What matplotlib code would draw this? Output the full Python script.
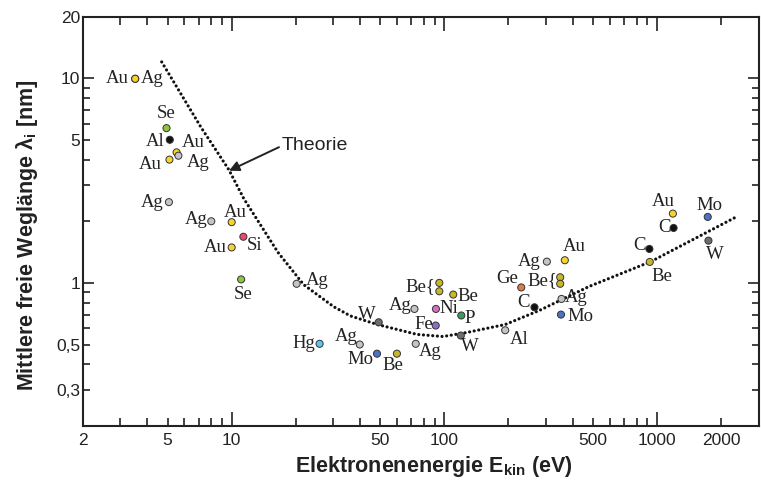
import matplotlib
matplotlib.use('Agg')
import matplotlib.pyplot as plt
from matplotlib import font_manager
from matplotlib.ticker import FixedLocator, FuncFormatter

# 1. Daten
theory_E = [4.69, 7.2, 9.7, 11.4, 16.5, 21.8, 30.1, 36.1, 48.4, 74.4, 98.5, 127, 193, 279, 478, 933, 2352]
theory_lam = [12.0, 5.72, 3.57, 2.58, 1.41, 0.98, 0.766, 0.69, 0.626, 0.56, 0.547, 0.572, 0.626, 0.733, 0.96, 1.27, 2.1]

energy = [3.52, 3.52, 4.94, 5.12, 5.51, 5.1, 5.62, 5.07, 8.02, 10.0, 11.35, 10.0, 11.08, 20.2,
          25.9, 40, 48.2, 59.8, 49.1, 72.3, 73.3, 94.6, 94.6, 110, 91.2, 120, 91, 119.4, 193,
          229.6, 303, 368, 350, 350, 265, 355, 353, 1185, 1194, 919, 923, 1728, 1741]
lam = [9.93, 9.93, 5.70, 5.0, 4.34, 4.0, 4.18, 2.48, 2.0, 1.98, 1.68, 1.49, 1.04, 0.99,
       0.504, 0.50, 0.451, 0.451, 0.642, 0.746, 0.504, 1.0, 0.91, 0.877, 0.746, 0.693, 0.619, 0.553, 0.587,
       0.95, 1.27, 1.29, 1.065, 0.99, 0.76, 0.835, 0.70, 2.18, 1.855, 1.465, 1.266, 2.10, 1.608]
element = ['Au', 'Ag', 'Se', 'Al', 'Au', 'Au', 'Ag', 'Ag', 'Ag', 'Au', 'Si', 'Au', 'Se', 'Ag',
           'Hg', 'Ag', 'Mo', 'Be', 'W', 'Ag', 'Ag', 'Be', 'Be', 'Be', 'Ni', 'P', 'Fe', 'W', 'Al',
           'Ge', 'Ag', 'Au', 'Be', 'Be', 'C', 'Ag', 'Mo', 'Au', 'C', 'C', 'Be', 'Mo', 'W']
label = ['Au', 'Ag', 'Se', 'Al', 'Au', 'Au', 'Ag', 'Ag', 'Ag', 'Au', 'Si', 'Au', 'Se', 'Ag',
         'Hg', 'Ag', 'Mo', 'Be', 'W', 'Ag', 'Ag', 'Be{', '', 'Be', 'Ni', 'P', 'Fe', 'W', 'Al',
         'Ge', 'Ag', 'Au', 'Be{', '', 'C', 'Ag', 'Mo', 'Au', 'C', 'C', 'Be', 'Mo', 'W']

xtick_values = [2, 5, 10, 50, 100, 500, 1000, 2000]
ytick_values = [0.3, 0.5, 1, 5, 10, 20]

# 2. Farben und Beschriftungs-Versatz (Pixel)
element_colors = {'Au': '#f7d32e', 'Ag': '#c4c4c4', 'Al': '#c4c4c4', 'C': '#111111', 'Se': '#8dc63f',
                  'Si': '#e84a6b', 'Hg': '#58c8f0', 'Mo': '#4b72c4', 'Be': '#c9b72a', 'Ni': '#d46fc4',
                  'Fe': '#8e6cc9', 'P': '#3a9b5c', 'W': '#6d6d6d', 'Ge': '#e07b45'}
point_colors = [element_colors[e] for e in element]
point_colors[1] = element_colors['Au']
point_colors[3] = '#111111'

label_offsets = [(-6, 0, 'right'), (6, 0, 'left'), (0, 15, 'center'), (-5, -2, 'right'),
                 (5, 10, 'left'), (-8, -5, 'right'), (8, -7, 'left'), (-5, 0, 'right'),
                 (-4, 2, 'right'), (4, 10, 'center'), (3, -9, 'left'), (-5, 0, 'right'),
                 (2, -15, 'center'), (9, 3, 'left'), (-4, 0, 'right'), (-2, 8, 'right'),
                 (-4, -6, 'right'), (-4, -12, 'center'), (-3, 8, 'right'), (-3, 3, 'right'),
                 (3, -8, 'left'), (-4, -4, 'right'), (0, 0, 'left'), (4, -2, 'left'),
                 (4, 0, 'left'), (3, -3, 'left'), (-3, 1, 'right'), (9, -11, 'center'),
                 (5, -9, 'left'), (-3, 9, 'right'), (-6, 0, 'right'), (9, 14, 'center'),
                 (-3, -3, 'right'), (0, 0, 'left'), (-5, 5, 'right'), (3, 1, 'left'),
                 (6, -2, 'left'), (-10, 12, 'center'), (-3, 0, 'right'), (-4, 3, 'right'),
                 (2, -15, 'left'), (2, 11, 'center'), (6, -14, 'center')]

installed = {f.name for f in font_manager.fontManager.ttflist}
sans = 'Liberation Sans'
tick_font = 'Liberation Sans Narrow' if 'Liberation Sans Narrow' in installed else sans
tick_size = 14 if tick_font != sans else 12.5

plt.rcParams['font.family'] = [sans, 'DejaVu Sans']
plt.rcParams['mathtext.fontset'] = 'custom'
plt.rcParams['mathtext.rm'] = sans
plt.rcParams['mathtext.bf'] = sans + ':bold'

# 3. Zeichnen
fig = plt.figure(figsize=(7.61, 4.86), dpi=100)
ax = fig.add_axes([0.109, 0.1235, 0.888, 0.8425])
ax.set_xscale('log')
ax.set_yscale('log')

ax.plot(theory_E, theory_lam, color='#111111', linestyle=(0, (0.01, 1.45)), linewidth=2.3,
        dash_capstyle='round', zorder=2)
ax.scatter(energy, lam, s=26, c=point_colors, edgecolors='#333333', linewidths=0.7, zorder=3)

px = 72 / fig.dpi
for e, l, txt, (dx, dy, ha) in zip(energy, lam, label, label_offsets):
    if txt:
        ax.annotate(txt, (e, l), xytext=(dx * px, dy * px), textcoords='offset points',
                    ha=ha, va='center', fontfamily='Liberation Serif', fontsize=13.5,
                    color='#222222', zorder=4)

ax.annotate('Theorie', xy=(9.72, 3.53), xytext=(17.2, 4.67), ha='left', va='center',
            fontsize=14, color='#222222',
            arrowprops=dict(arrowstyle='-|>', color='#222222', lw=1.4, mutation_scale=15,
                            shrinkA=0, shrinkB=0, relpos=(0, 0.5)))

ax.set_xlim(2, 3000)
ax.set_ylim(0.2, 20)


def fmt_factory(values):
    def fmt(v, pos):
        for t in values:
            if abs(v - t) < 1e-6 * t:
                return f'{t:g}'.replace('.', ',')
        return ''
    return FuncFormatter(fmt)


x_minor = [m * 10 ** k for k in range(0, 4) for m in range(2, 10) if 2 <= m * 10 ** k <= 3000]
y_minor = [m * 10.0 ** k for k in range(-1, 2) for m in range(2, 10) if 0.2 <= m * 10.0 ** k <= 20]
ax.xaxis.set_major_locator(FixedLocator([10, 100, 1000]))
ax.xaxis.set_minor_locator(FixedLocator(x_minor))
ax.yaxis.set_major_locator(FixedLocator([1, 10]))
ax.yaxis.set_minor_locator(FixedLocator([round(v, 6) for v in y_minor]))
for axis, vals in ((ax.xaxis, xtick_values), (ax.yaxis, ytick_values)):
    axis.set_major_formatter(fmt_factory(vals))
    axis.set_minor_formatter(fmt_factory(vals))

ax.tick_params(which='both', direction='in', top=True, right=True, width=1.2,
               labelsize=tick_size, labelcolor='#222222', color='#222222')
ax.tick_params(axis='x', which='major', length=10, pad=5)
ax.tick_params(axis='x', which='minor', length=5.5, pad=5)
ax.tick_params(axis='y', which='major', length=8, pad=2)
ax.tick_params(axis='y', which='minor', length=5, pad=2)
for t in ax.get_xticklabels(which='both') + ax.get_yticklabels(which='both'):
    t.set_fontfamily(tick_font)

for s in ax.spines.values():
    s.set_linewidth(1.5)
    s.set_color('#222222')

ax.set_xlabel(r'Elektronenenergie E$_\mathbf{kin}$ (eV)', fontsize=15.5, fontweight='bold',
              color='#222222', va='center')
ax.set_ylabel(r'Mittlere freie Weglänge λ$_\mathbf{i}$ [nm]', fontsize=15.5, fontweight='bold',
              color='#222222', va='center')
ax.xaxis.set_label_coords(0.52, -0.1)
ax.yaxis.set_label_coords(-0.083, 0.466)

# 4. Speichern
fig.savefig('out.png', dpi=100)
